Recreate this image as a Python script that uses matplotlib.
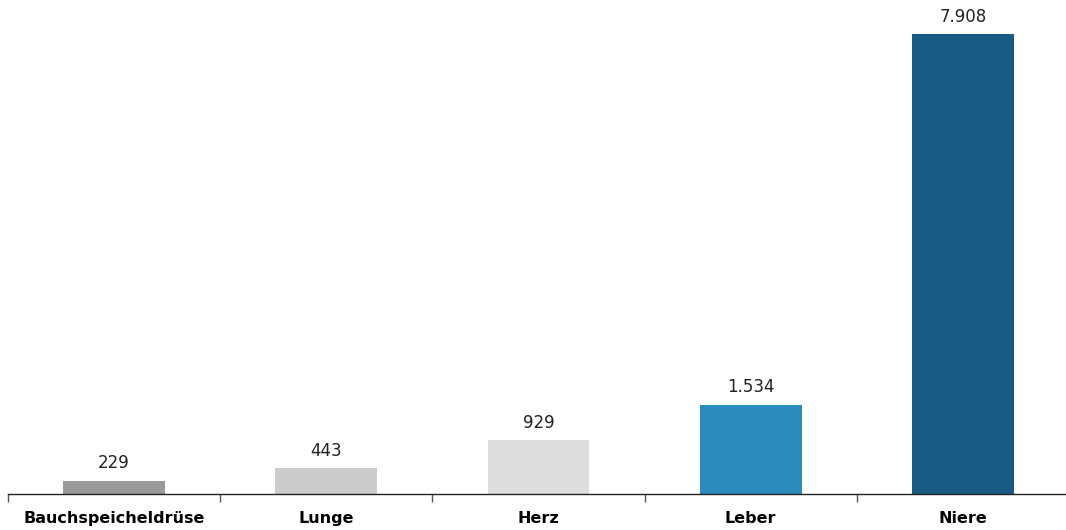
import matplotlib.pyplot as plt
import numpy as np

categories = ["Bauchspeicheldrüse", "Lunge", "Herz", "Leber", "Niere"]
values = [229, 443, 929, 1534, 7908]
value_labels = ["229", "443", "929", "1.534", "7.908"]
colors = ["#999999", "#cccccc", "#dddddd", "#2a8bbd", "#175b85"]

fig = plt.figure(figsize=(10.66, 5.30), dpi=100)
ax = fig.add_axes([8 / 1066, 36 / 530, 1061 / 1066, 494 / 530])

x = np.arange(len(categories))
ax.bar(x, values, width=0.48, color=colors)

for xi, v, lab in zip(x, values, value_labels):
    ax.annotate(lab, (xi, v), xytext=(0, 6), textcoords="offset points",
                ha="center", va="bottom", fontsize=12, color="#222222")

ax.set_xlim(-0.5, 4.5)
ax.set_ylim(0, 7908 * 494 / 460)

# boundary ticks between categories, labels centered
ax.set_xticks(np.arange(-0.5, 4.0, 1.0))
ax.set_xticklabels([])
ax.set_xticks(x, minor=True)
ax.set_xticklabels(categories, minor=True, fontsize=11.5, fontweight="bold")
ax.tick_params(axis="x", which="major", length=6, width=1, color="#555555")
ax.tick_params(axis="x", which="minor", length=0, pad=12)

ax.set_yticks([])
for side in ["top", "right", "left"]:
    ax.spines[side].set_visible(False)
ax.spines["bottom"].set_color("#222222")
ax.spines["bottom"].set_linewidth(1)

fig.savefig("out.png", dpi=100)
